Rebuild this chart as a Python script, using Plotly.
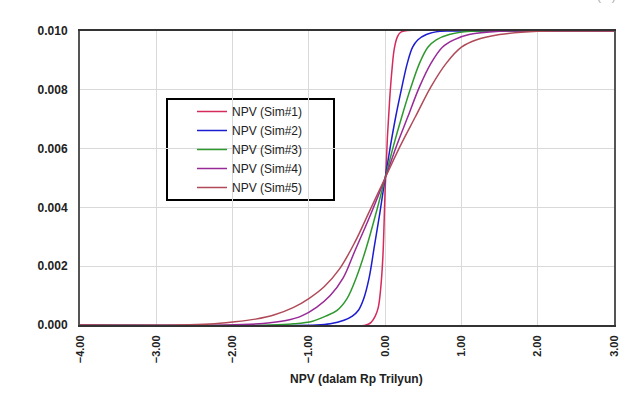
import plotly.graph_objects as go

# ---- data ----
sim1_x = [-4.0, -0.25, -0.18, -0.13, -0.09, -0.06, -0.03, 0.0, 0.03, 0.06, 0.09, 0.12, 0.16, 0.20, 0.25, 3.0]
sim1_y = [0.0, 0.0, 0.0001, 0.0003, 0.0006, 0.0012, 0.0023, 0.0046, 0.0064, 0.0077, 0.0087, 0.0094, 0.0098, 0.00995, 0.01, 0.01]

sim2_x = [-4.0, -0.9, -0.72, -0.54, -0.43, -0.35, -0.28, -0.21, -0.14, -0.07, 0.0, 0.07, 0.14, 0.22, 0.29, 0.36, 0.43, 0.54, 0.72, 0.9, 3.0]
sim2_y = [0.0, 0.0, 0.00004, 0.00016, 0.0003, 0.0005, 0.0009, 0.0016, 0.0027, 0.0038, 0.005, 0.0061, 0.0071, 0.0081, 0.0089, 0.00945, 0.0097, 0.00988, 0.00999, 0.01, 0.01]

sim3_x = [-4.0, -1.5, -1.2, -0.95, -0.78, -0.63, -0.5, -0.38, -0.25, -0.12, 0.0, 0.11, 0.22, 0.34, 0.45, 0.56, 0.67, 0.84, 1.12, 1.4, 3.0]
sim3_y = [0.0, 0.0, 0.00004, 0.00013, 0.0003, 0.0005, 0.0009, 0.0016, 0.0026, 0.0038, 0.005, 0.0061, 0.0071, 0.0081, 0.0089, 0.00945, 0.0097, 0.00988, 0.00999, 0.01, 0.01]

sim4_x = [-4.0, -2.1, -1.6, -1.3, -1.1, -0.9, -0.72, -0.55, -0.4, -0.2, 0.0, 0.15, 0.3, 0.45, 0.6, 0.75, 0.9, 1.1, 1.5, 2.0, 3.0]
sim4_y = [0.0, 0.0, 0.00005, 0.00015, 0.0003, 0.0006, 0.001, 0.0016, 0.0025, 0.0037, 0.005, 0.0061, 0.0071, 0.0081, 0.0089, 0.00945, 0.0097, 0.00988, 0.00999, 0.01, 0.01]

sim5_x = [-4.0, -2.7, -2.3, -2.0, -1.7, -1.45, -1.2, -1.0, -0.8, -0.6, -0.4, -0.2, 0.0, 0.2, 0.4, 0.6, 0.8, 1.0, 1.2, 1.5, 2.0, 2.5, 3.0]
sim5_y = [0.0, 0.0, 0.00003, 0.0001, 0.0002, 0.00035, 0.0006, 0.0009, 0.0013, 0.0019, 0.0028, 0.0039, 0.005, 0.0061, 0.0071, 0.0081, 0.0089, 0.00945, 0.0097, 0.00988, 0.00999, 0.01, 0.01]

series_names = ["NPV (Sim#1)", "NPV (Sim#2)", "NPV (Sim#3)", "NPV (Sim#4)", "NPV (Sim#5)"]
series_x = [sim1_x, sim2_x, sim3_x, sim4_x, sim5_x]
series_y = [sim1_y, sim2_y, sim3_y, sim4_y, sim5_y]
series_colors = ["#d42a5c", "#1c1cd0", "#2e992e", "#982a98", "#b04a58"]

x_ticks = [-4, -3, -2, -1, 0, 1, 2, 3]
y_ticks = [0.0, 0.002, 0.004, 0.006, 0.008, 0.010]

FONT = "Liberation Sans, Arial, Helvetica, sans-serif"

fig = go.Figure()
for name, xs, ys, col in zip(series_names, series_x, series_y, series_colors):
    fig.add_trace(go.Scatter(
        x=xs, y=ys, mode="lines", name=name,
        line=dict(color=col, width=1.5, shape="spline", smoothing=1.0),
    ))

W, H = 641, 410
L, R, T, B = 80, 27, 31, 85
pw, ph = W - L - R, H - T - B

def px_x(p):
    return (p - L) / pw

def px_y(p):
    return (H - B - p) / ph

fig.update_layout(
    width=W, height=H,
    margin=dict(l=L, r=R, t=T, b=B),
    paper_bgcolor="white", plot_bgcolor="white",
    font=dict(family=FONT, size=12, color="#222"),
    showlegend=True,
    legend=dict(
        x=px_x(192), y=px_y(97), xanchor="left", yanchor="top",
        bgcolor="rgba(0,0,0,0)", borderwidth=0,
        font=dict(family=FONT, size=12, color="#222"),
        itemwidth=30, tracegroupgap=0,
    ),
    xaxis=dict(
        range=[-4, 3], tickvals=x_ticks, tickformat=".2f",
        tickangle=-90,
        tickfont=dict(family=FONT, size=11, color="#222", weight="bold"),
        showgrid=True, gridcolor="#d9d9d9", gridwidth=1,
        showline=True, linecolor="#333", linewidth=2, mirror=True,
        zeroline=False, ticks="", ticklabelstandoff=4,
    ),
    yaxis=dict(
        range=[0, 0.01], tickvals=y_ticks, tickformat=".3f",
        tickfont=dict(family=FONT, size=12, color="#222", weight="bold"),
        showgrid=True, gridcolor="#d9d9d9", gridwidth=1,
        showline=True, linecolor="#555", linewidth=2, mirror=True,
        zeroline=False, ticks="", ticklabelstandoff=8,
    ),
    shapes=[dict(
        type="rect", xref="paper", yref="paper",
        x0=px_x(167), x1=px_x(334), y0=px_y(200), y1=px_y(99),
        line=dict(color="black", width=2), fillcolor="white", layer="below",
    )],
    annotations=[
        dict(text="<b>NPV (dalam Rp Trilyun)</b>", xref="paper", yref="paper",
             x=px_x(356), y=px_y(379), xanchor="center", yanchor="middle",
             showarrow=False, font=dict(family=FONT, size=12, color="#222")),
        dict(text="(%)", xref="paper", yref="paper",
             x=px_x(606), y=px_y(-4), xanchor="center", yanchor="middle",
             showarrow=False, font=dict(family=FONT, size=12, color="#aaa")),
    ],
)

fig.write_html("out.html")
